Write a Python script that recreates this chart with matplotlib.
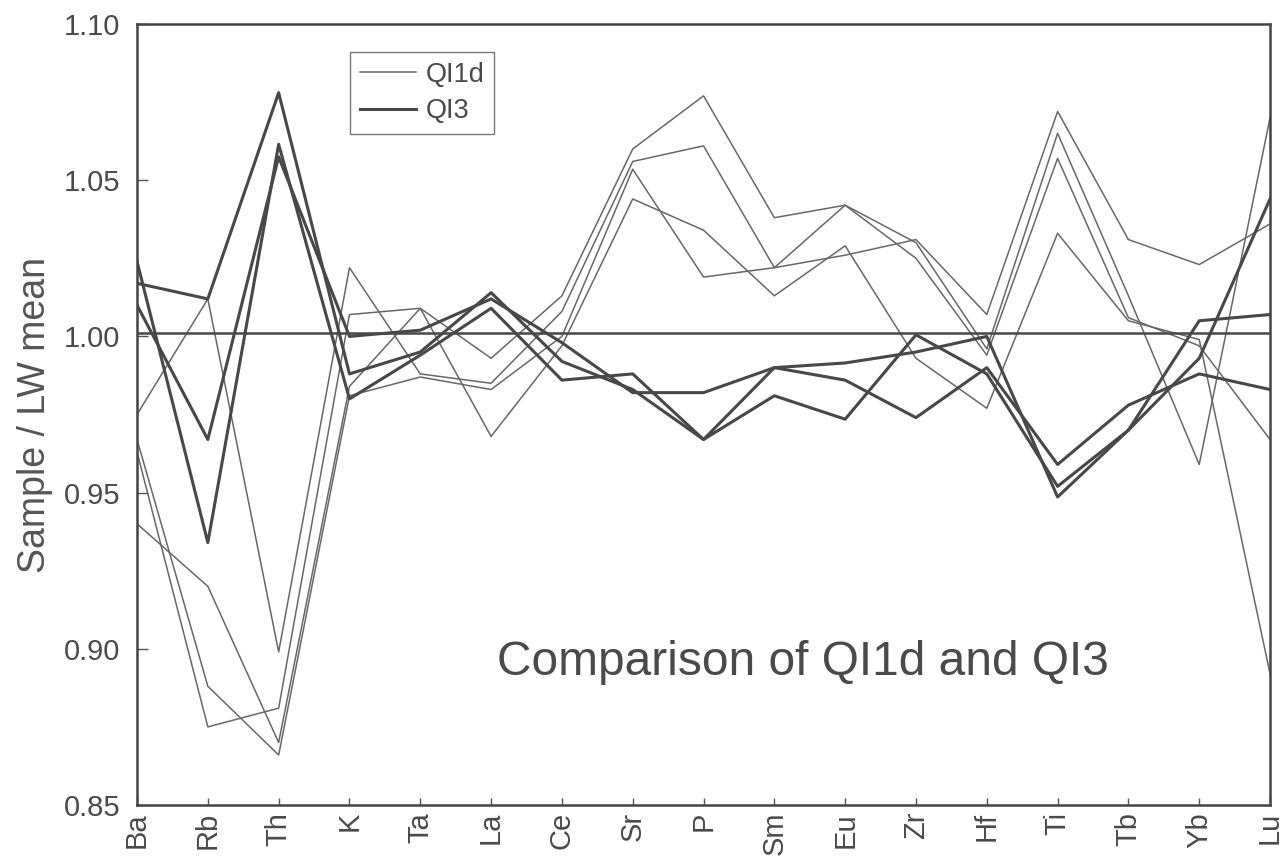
import matplotlib.pyplot as plt
import numpy as np

plt.rcParams['font.family'] = ['Liberation Sans', 'DejaVu Sans']

# Elements along the x axis
elements = ['Ba', 'Rb', 'Th', 'K', 'Ta', 'La', 'Ce', 'Sr', 'P', 'Sm',
            'Eu', 'Zr', 'Hf', 'Ti', 'Tb', 'Yb', 'Lu']

# QI1d samples (sample / LW mean)
ql1d_a = [0.975, 1.012, 0.899, 1.022, 0.988, 0.985, 1.008, 1.056, 1.061, 1.022,
          1.042, 1.025, 0.994, 1.057, 1.006, 0.997, 0.967]
ql1d_b = [0.940, 0.920, 0.870, 0.984, 1.009, 0.968, 0.997, 1.044, 1.034, 1.013,
          1.029, 0.993, 0.977, 1.033, 1.005, 0.999, 0.892]
ql1d_c = [0.967, 0.888, 0.866, 0.981, 0.987, 0.983, 1.000, 1.0535, 1.019, 1.022,
          1.026, 1.031, 1.007, 1.072, 1.031, 1.023, 1.036]
ql1d_d = [0.963, 0.875, 0.881, 1.007, 1.009, 0.993, 1.013, 1.060, 1.077, 1.038,
          1.042, 1.030, 0.996, 1.065, 1.013, 0.959, 1.070]

# QI3 samples
ql3_a = [1.017, 1.012, 1.078, 0.988, 0.995, 1.014, 0.992, 0.983, 0.967, 0.981,
         0.9735, 1.0005, 0.988, 0.952, 0.970, 0.993, 1.044]
ql3_b = [1.024, 0.934, 1.0615, 0.980, 0.994, 1.009, 0.986, 0.988, 0.967, 0.990,
         0.986, 0.974, 0.990, 0.959, 0.978, 0.988, 0.983]
ql3_c = [1.010, 0.967, 1.0575, 1.000, 1.002, 1.012, 0.998, 0.982, 0.982, 0.990,
         0.9915, 0.995, 1.000, 0.9486, 0.970, 1.005, 1.007]

# LW mean reference level
lw_mean = [1.001] * len(elements)

yticks = [0.85, 0.90, 0.95, 1.00, 1.05, 1.10]

x = np.arange(len(elements))
txt = '#4a4a4a'

fig = plt.figure(figsize=(12.83, 8.64), dpi=100)
ax = fig.add_axes([0.1068, 0.0683, 0.8831, 0.9039])

for i, s in enumerate([ql1d_a, ql1d_b, ql1d_c, ql1d_d]):
    ax.plot(x, s, color='#686868', lw=1.1, label='QI1d' if i == 0 else None)
for i, s in enumerate([ql3_a, ql3_b, ql3_c]):
    ax.plot(x, s, color='#484848', lw=2.2, label='QI3' if i == 0 else None)
ax.plot(x, lw_mean, color='#484848', lw=1.8)

ax.set_xlim(0, len(elements) - 1)
ax.set_ylim(0.85, 1.10)
ax.set_xticks(x)
ax.set_xticklabels(elements, rotation=90, fontsize=21, color=txt)
ax.set_yticks(yticks)
ax.set_yticklabels([f'{v:.2f}' for v in yticks], fontsize=21, color=txt)
ax.tick_params(axis='x', direction='in', length=5, width=1, color='#555555', pad=5)
ax.tick_params(axis='y', direction='in', length=8, width=1, color='#555555', pad=12)
for sp in ax.spines.values():
    sp.set_linewidth(1.8)
    sp.set_color('#444444')

ax.set_ylabel('Sample / LW mean', fontsize=27, color='#555555', labelpad=8)

ax.text(0.588, 0.182, 'Comparison of QI1d and QI3', transform=ax.transAxes,
        ha='center', va='center', fontsize=34.5, color=txt)

leg = ax.legend(loc='upper left', bbox_to_anchor=(0.188, 0.964), fontsize=19.5,
                frameon=True, fancybox=False, handlelength=2.1,
                borderpad=0.35, labelspacing=0.4, handletextpad=0.35,
                borderaxespad=0)
leg.get_frame().set_edgecolor('#555555')
leg.get_frame().set_linewidth(1.0)
for t in leg.get_texts():
    t.set_color(txt)

fig.savefig('out.png', dpi=100)
